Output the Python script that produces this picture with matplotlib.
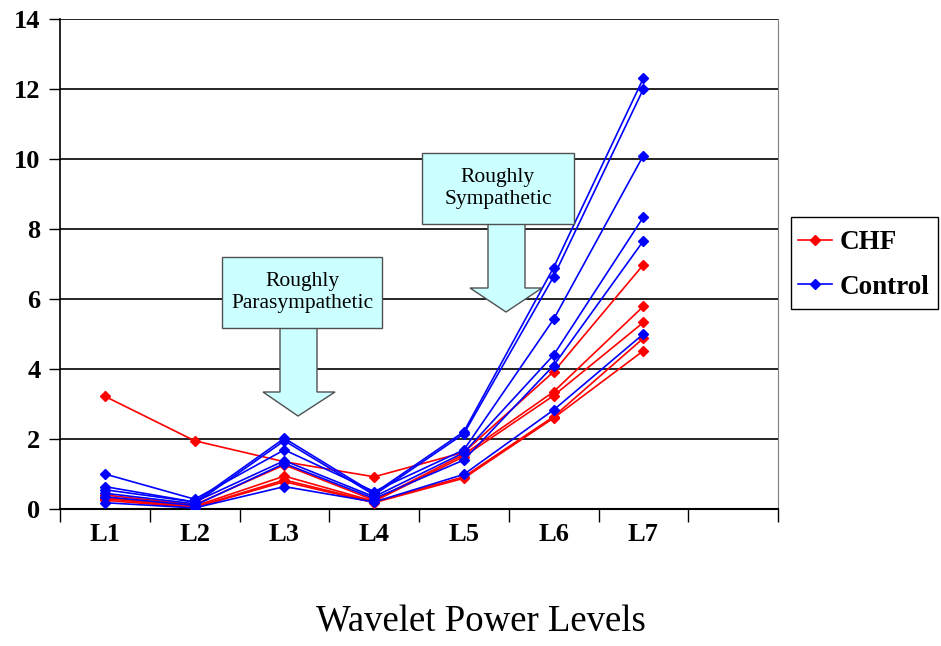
import matplotlib.pyplot as plt
from matplotlib.patches import Rectangle, Polygon
import numpy as np

levels = ["L1", "L2", "L3", "L4", "L5", "L6", "L7"]

# CHF subjects
chf = [
    [3.22, 1.95, 1.35, 0.92, 1.62, 3.92, 6.98],
    [0.40, 0.12, 1.26, 0.25, 1.56, 3.35, 5.79],
    [0.33, 0.08, 0.94, 0.22, 1.50, 3.24, 5.33],
    [0.30, 0.05, 0.83, 0.20, 0.92, 2.64, 4.88],
    [0.25, 0.04, 0.78, 0.18, 0.88, 2.60, 4.52],
]

# control subjects
control = [
    [0.55, 0.20, 2.02, 0.45, 2.21, 6.90, 12.31],
    [0.45, 0.15, 1.95, 0.40, 2.15, 6.64, 12.00],
    [1.00, 0.28, 1.69, 0.50, 1.69, 5.42, 10.10],
    [0.64, 0.20, 1.38, 0.35, 1.61, 4.40, 8.34],
    [0.35, 0.10, 1.30, 0.30, 1.40, 4.10, 7.66],
    [0.18, 0.03, 0.64, 0.20, 0.99, 2.83, 5.00],
]

serif = "Liberation Serif"


def fx(px):
    return px / 941


def fy(py):
    return 1 - py / 646


fig = plt.figure(figsize=(9.41, 6.46), dpi=100)
ax = fig.add_axes([fx(60), fy(509), 718 / 941, 490 / 646])

x = np.arange(len(levels))
for i, row in enumerate(chf):
    ax.plot(x, row, color="#ff0000", lw=1.2, marker="D", ms=5.5,
            label="CHF" if i == 0 else None, zorder=3)
for i, row in enumerate(control):
    ax.plot(x, row, color="#0000ff", lw=1.2, marker="D", ms=5.5,
            label="Control" if i == 0 else None, zorder=3)

ax.set_xlim(-0.5, 7.5)
ax.set_ylim(0, 14)
ax.set_yticks(np.arange(0, 15, 2))
ax.yaxis.grid(True, color="black", lw=1.2)
ax.set_axisbelow(True)

ax.set_xticks(x)
ax.set_xticklabels(levels)
ax.set_xticks(np.arange(-0.5, 8, 1), minor=True)
ax.tick_params(axis="x", which="major", length=0, pad=10)
ax.tick_params(axis="x", which="minor", length=9, width=1, direction="out")
ax.tick_params(axis="y", length=8, width=1, direction="out", pad=6)

for lab in ax.get_xticklabels() + ax.get_yticklabels():
    lab.set_fontfamily(serif)
    lab.set_fontweight("bold")
    lab.set_fontsize(19)

ax.spines["top"].set_visible(False)
ax.spines["right"].set_color("#808080")
ax.spines["left"].set_linewidth(1.2)
ax.spines["bottom"].set_linewidth(1.5)

fig.text(fx(481), fy(622), "Wavelet Power Levels", ha="center", va="center",
         fontfamily=serif, fontsize=26.5)

# legend without its own frame, boxed by hand to match the original's tight border
ax.legend(loc="center left", bbox_to_anchor=(fx(798), fy(265)),
          bbox_transform=fig.transFigure, frameon=False,
          prop={"family": serif, "weight": "bold", "size": 19.5},
          handlelength=1.25, borderpad=0, labelspacing=0.72,
          handletextpad=0.3, borderaxespad=0)
fig.patches.append(Rectangle((fx(791), fy(309)), fx(938) - fx(791), fy(217) - fy(309),
                             transform=fig.transFigure, fill=False,
                             edgecolor="black", lw=1.0))


def callout(box, shaft, head, tip, text):
    # box, shaft, head in pixel coordinates (origin top-left)
    x0, y0, x1, y1 = box
    sx0, sx1, sy1 = shaft
    hx0, hx1 = head
    tx, ty = tip
    arrow = Polygon([(fx(sx0), fy(y1)), (fx(sx0), fy(sy1)), (fx(hx0), fy(sy1)),
                     (fx(tx), fy(ty)), (fx(hx1), fy(sy1)), (fx(sx1), fy(sy1)),
                     (fx(sx1), fy(y1))], closed=True, transform=fig.transFigure,
                    facecolor="#ccffff", edgecolor="#505050", lw=1.0, zorder=4)
    fig.patches.append(arrow)
    rect = Rectangle((fx(x0), fy(y1)), fx(x1) - fx(x0), fy(y0) - fy(y1),
                     transform=fig.transFigure, facecolor="#ccffff",
                     edgecolor="#505050", lw=1.0, zorder=5)
    fig.patches.append(rect)
    fig.text(fx((x0 + x1) / 2), fy((y0 + y1) / 2), text, ha="center", va="center",
             fontfamily=serif, fontsize=15.5, linespacing=1.15, zorder=6)


callout((222, 257, 382, 328), (280, 317, 392), (263, 335), (298, 416),
        "Roughly\nParasympathetic")
callout((422, 153, 574, 224), (488, 525, 288), (470, 542), (506, 312),
        "Roughly\nSympathetic")

fig.savefig("out.png", dpi=100)
